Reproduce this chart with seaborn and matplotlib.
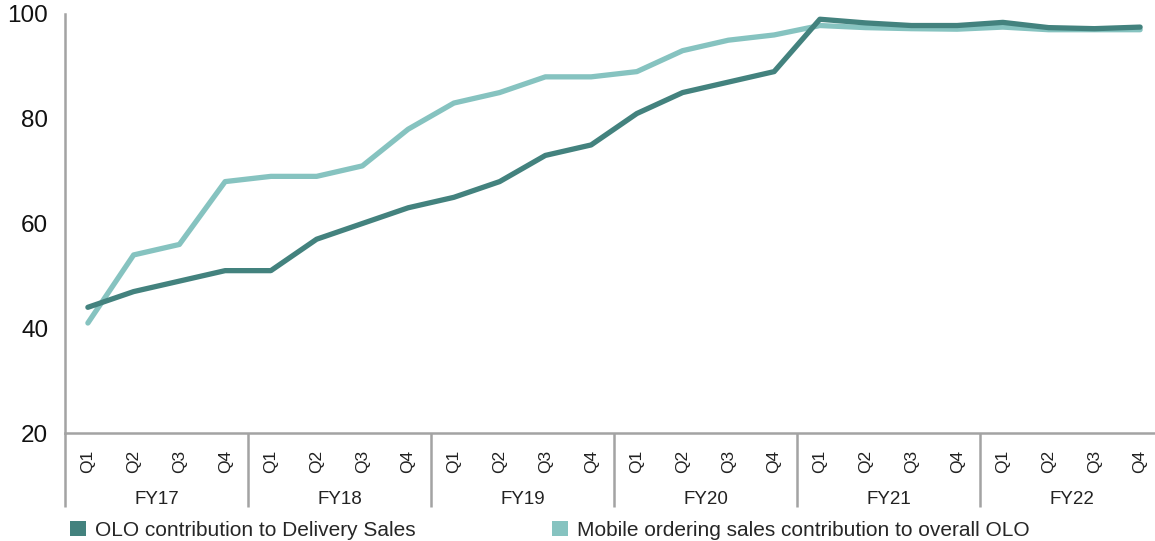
import matplotlib
matplotlib.use("Agg")
import matplotlib.pyplot as plt
import matplotlib.transforms as mtransforms
from matplotlib.patches import Patch
import seaborn as sns
import pandas as pd

years = ["FY17", "FY18", "FY19", "FY20", "FY21", "FY22"]
quarters = ["Q1", "Q2", "Q3", "Q4"]

olo_delivery = [44, 47, 49, 51, 51, 57, 60, 63, 65, 68, 73, 75,
                81, 85, 87, 89, 99, 98.3, 97.8, 97.8, 98.4, 97.4, 97.2, 97.5]
mobile_olo = [41, 54, 56, 68, 69, 69, 71, 78, 83, 85, 88, 88,
              89, 93, 95, 96, 97.8, 97.4, 97.2, 97.1, 97.5, 97.0, 97.0, 97.0]

series_names = ["OLO contribution to Delivery Sales",
                "Mobile ordering sales contribution to overall OLO"]
colors = ["#43827e", "#86c3c0"]

sns.set_theme(style="white")
plt.rcParams["font.family"] = ["Liberation Sans", "DejaVu Sans"]

labels = [q for y in years for q in quarters]
idx = list(range(len(labels)))
df = pd.DataFrame({
    "idx": idx * 2,
    "value": olo_delivery + mobile_olo,
    "series": [series_names[0]] * len(idx) + [series_names[1]] * len(idx),
})

fig = plt.figure(figsize=(11.55, 5.41), dpi=100)
W, H = 1155, 541
ax = fig.add_axes([65 / W, 1 - 433 / H, (1163 - 65) / W, (433 - 14) / H])

sns.lineplot(data=df[df.series == series_names[1]], x="idx", y="value",
             color=colors[1], linewidth=3.8, ax=ax, legend=False, zorder=2)
sns.lineplot(data=df[df.series == series_names[0]], x="idx", y="value",
             color=colors[0], linewidth=3.8, ax=ax, legend=False, zorder=3)

ax.set_xlim(-0.5, len(labels) - 0.5)
ax.set_ylim(20, 100)
ax.set_yticks([20, 40, 60, 80, 100])
ax.set_xticks(idx)
ax.set_xticklabels(labels, rotation=90, fontsize=12.5, color="#222222")
ax.tick_params(axis="x", length=0, pad=12)
ax.tick_params(axis="y", length=0, pad=12, labelsize=17.5, labelcolor="#111111")
ax.set_xlabel("")
ax.set_ylabel("")
ax.grid(False)
for s in ["top", "right"]:
    ax.spines[s].set_visible(False)
for s in ["left", "bottom"]:
    ax.spines[s].set_color("#a3a3a3")
    ax.spines[s].set_linewidth(1.8)

trans = mtransforms.blended_transform_factory(ax.transData, ax.transAxes)
ybot = (433 - 507) / 419
for g in range(len(years) + 1):
    xb = g * 4 - 0.5
    ax.plot([xb, xb], [0, ybot], color="#a3a3a3", linewidth=1.8,
            transform=trans, clip_on=False, solid_capstyle="butt")
for g, yname in enumerate(years):
    ax.text(g * 4 + 1.5, (433 - 500) / 419, yname, transform=trans,
            ha="center", va="center", fontsize=13.5, color="#222222")

handles = [Patch(facecolor=colors[0], edgecolor="none"),
           Patch(facecolor=colors[1], edgecolor="none")]
fig.legend(handles, series_names, loc="lower left",
           bbox_to_anchor=(62 / W, -7 / H), ncol=2, frameon=False,
           fontsize=15, handlelength=0.75, handleheight=0.75,
           handletextpad=0.45, columnspacing=6.55, borderaxespad=0)

fig.savefig("out.png", dpi=100)
